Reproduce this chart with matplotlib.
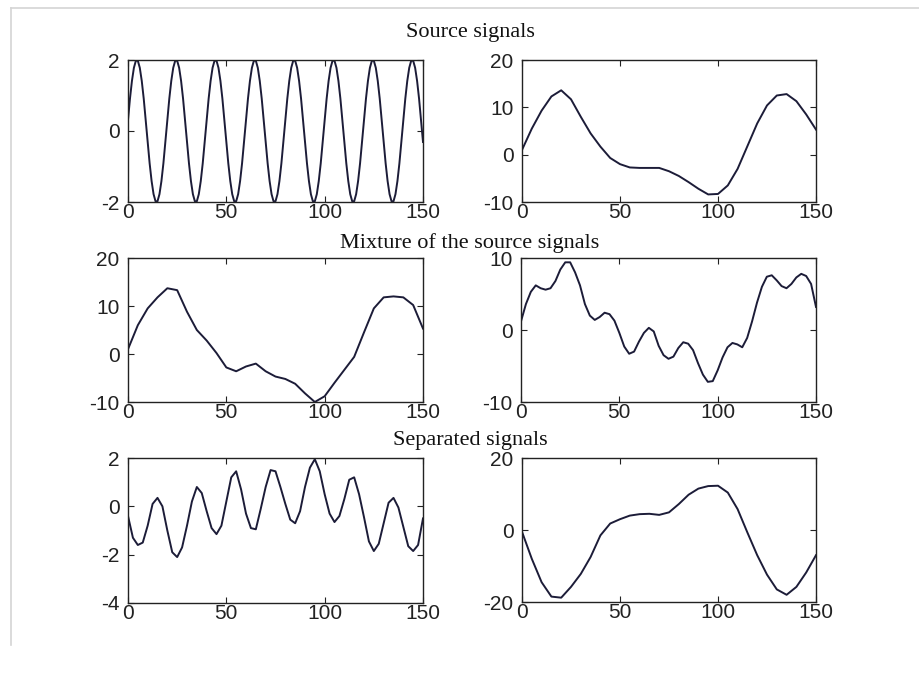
import matplotlib
matplotlib.use("Agg")
import matplotlib.pyplot as plt
from matplotlib.lines import Line2D

# sample positions for each signal
x_fine = list(range(0, 151))
x_mid = [i * 2.5 for i in range(61)]
x_coarse = list(range(0, 151, 5))

# source 1: the sine wave, read one unit at a time
source1 = [
    0.31, 0.91, 1.41, 1.78, 1.98, 1.98, 1.78, 1.41, 0.91, 0.31, -0.31, -0.91, -1.41, -1.78, -1.98, -1.98, -1.78, -1.41, -0.91, -0.31,
    0.31, 0.91, 1.41, 1.78, 1.98, 1.98, 1.78, 1.41, 0.91, 0.31, -0.31, -0.91, -1.41, -1.78, -1.98, -1.98, -1.78, -1.41, -0.91, -0.31,
    0.31, 0.91, 1.41, 1.78, 1.98, 1.98, 1.78, 1.41, 0.91, 0.31, -0.31, -0.91, -1.41, -1.78, -1.98, -1.98, -1.78, -1.41, -0.91, -0.31,
    0.31, 0.91, 1.41, 1.78, 1.98, 1.98, 1.78, 1.41, 0.91, 0.31, -0.31, -0.91, -1.41, -1.78, -1.98, -1.98, -1.78, -1.41, -0.91, -0.31,
    0.31, 0.91, 1.41, 1.78, 1.98, 1.98, 1.78, 1.41, 0.91, 0.31, -0.31, -0.91, -1.41, -1.78, -1.98, -1.98, -1.78, -1.41, -0.91, -0.31,
    0.31, 0.91, 1.41, 1.78, 1.98, 1.98, 1.78, 1.41, 0.91, 0.31, -0.31, -0.91, -1.41, -1.78, -1.98, -1.98, -1.78, -1.41, -0.91, -0.31,
    0.31, 0.91, 1.41, 1.78, 1.98, 1.98, 1.78, 1.41, 0.91, 0.31, -0.31, -0.91, -1.41, -1.78, -1.98, -1.98, -1.78, -1.41, -0.91, -0.31,
    0.31, 0.91, 1.41, 1.78, 1.98, 1.98, 1.78, 1.41, 0.91, 0.31, -0.31,
]

# source 2: slow signal, every 5 units
source2 = [1.0, 5.5, 9.3, 12.3, 13.6, 11.7, 8.0, 4.5, 1.7, -0.7, -2.0, -2.7, -2.8, -2.8, -2.8, -3.5,
           -4.5, -5.8, -7.2, -8.4, -8.3, -6.5, -3.0, 1.8, 6.6, 10.4, 12.5, 12.8, 11.3, 8.5, 5.3]

# mixture 1, every 5 units
mixture1 = [1.0, 6.0, 9.5, 11.8, 13.7, 13.3, 8.8, 5.0, 2.8, 0.2, -2.8, -3.6, -2.6, -2.0, -3.6, -4.7,
            -5.2, -6.2, -8.2, -10.0, -8.8, -6.0, -3.3, -0.6, 4.5, 9.5, 11.8, 12.0, 11.8, 10.2, 5.3]

# mixture 2, every 2.5 units
mixture2 = [1.2, 3.6, 5.3, 6.2, 5.8, 5.6, 5.8, 6.8, 8.4, 9.4, 9.4, 8.0, 6.2, 3.6, 2.0, 1.4,
            1.8, 2.4, 2.2, 1.3, -0.4, -2.3, -3.3, -3.0, -1.6, -0.4, 0.3, -0.2, -2.2, -3.5, -4.0,
            -3.7, -2.5, -1.7, -1.9, -2.8, -4.6, -6.2, -7.2, -7.1, -5.6, -3.8, -2.4, -1.8, -2.0,
            -2.4, -1.1, 1.2, 3.8, 6.0, 7.4, 7.6, 6.9, 6.1, 5.8, 6.4, 7.3, 7.8, 7.5, 6.4, 3.2]

# separated 1, every 2.5 units
separated1 = [-0.4, -1.3, -1.6, -1.5, -0.8, 0.1, 0.35, 0.0, -1.0, -1.9, -2.1, -1.7, -0.8, 0.2,
              0.8, 0.55, -0.2, -0.9, -1.15, -0.8, 0.2, 1.2, 1.45, 0.7, -0.3, -0.9, -0.95, -0.1,
              0.8, 1.5, 1.45, 0.8, 0.1, -0.55, -0.7, -0.2, 0.8, 1.6, 1.95, 1.45, 0.5, -0.3, -0.65,
              -0.4, 0.3, 1.1, 1.2, 0.5, -0.45, -1.45, -1.85, -1.55, -0.7, 0.15, 0.35, -0.05,
              -0.85, -1.65, -1.85, -1.6, -0.5]

# separated 2, every 5 units
separated2 = [-0.5, -8.0, -14.5, -18.5, -18.8, -15.8, -12.2, -7.5, -1.5, 1.8, 3.0, 4.0, 4.4, 4.5,
              4.2, 4.9, 7.2, 9.8, 11.5, 12.2, 12.3, 10.4, 5.8, -0.7, -7.0, -12.4, -16.5, -18.0,
              -15.8, -11.8, -7.0]

x_ticks = [0, 50, 100, 150]
row_titles = ["Source signals", "Mixture of the source signals", "Separated signals"]

plt.rcParams["font.family"] = ["Liberation Sans", "DejaVu Sans"]
plt.rcParams["axes.unicode_minus"] = False

W, H = 919, 673
fig = plt.figure(figsize=(W / 100, H / 100), dpi=100)
fig.patch.set_facecolor("white")

# thin grey frame lines on the top and left like the screenshot
fig.add_artist(Line2D([11 / W, 1.0], [1 - 8 / H, 1 - 8 / H], color="#d4d4d4", lw=1.2))
fig.add_artist(Line2D([11 / W, 11 / W], [1 - 8 / H, 1 - 645 / H], color="#d4d4d4", lw=1.2))

# axes boxes in pixels: left, top, right, bottom
boxes = [
    (128, 60, 423, 202), (522, 60, 816, 202),
    (128, 258, 423, 402), (521, 258, 816, 402),
    (128, 458, 423, 603), (522, 458, 816, 602),
]
series = [
    (x_fine, source1, (-2, 2), [-2, 0, 2]),
    (x_coarse, source2, (-10, 20), [-10, 0, 10, 20]),
    (x_coarse, mixture1, (-10, 20), [-10, 0, 10, 20]),
    (x_mid, mixture2, (-10, 10), [-10, 0, 10]),
    (x_mid, separated1, (-4, 2), [-4, -2, 0, 2]),
    (x_coarse, separated2, (-20, 20), [-20, 0, 20]),
]

for (l, t, r, b), (xs, ys, ylim, yticks) in zip(boxes, series):
    ax = fig.add_axes([l / W, 1 - b / H, (r - l) / W, (b - t) / H])
    ax.plot(xs, ys, color="#1c1c38", lw=1.4)
    ax.set_xlim(0, 150)
    ax.set_ylim(*ylim)
    ax.set_xticks(x_ticks)
    ax.set_yticks(yticks)
    ax.tick_params(direction="in", length=4, width=0.8, labelsize=15,
                   top=True, right=True, colors="#222222")
    ax.tick_params(axis="x", pad=1)
    ax.tick_params(axis="y", pad=6)
    for sp in ax.spines.values():
        sp.set_color("#222222")
        sp.set_linewidth(1.0)

# row titles sit between the two columns
for title, y_px in zip(row_titles, [32, 243, 441]):
    fig.text(470 / W, 1 - y_px / H, title, ha="center", va="center",
             fontsize=16, family=["Liberation Serif", "DejaVu Serif"], color="#111111")

fig.savefig("out.png", dpi=100)
